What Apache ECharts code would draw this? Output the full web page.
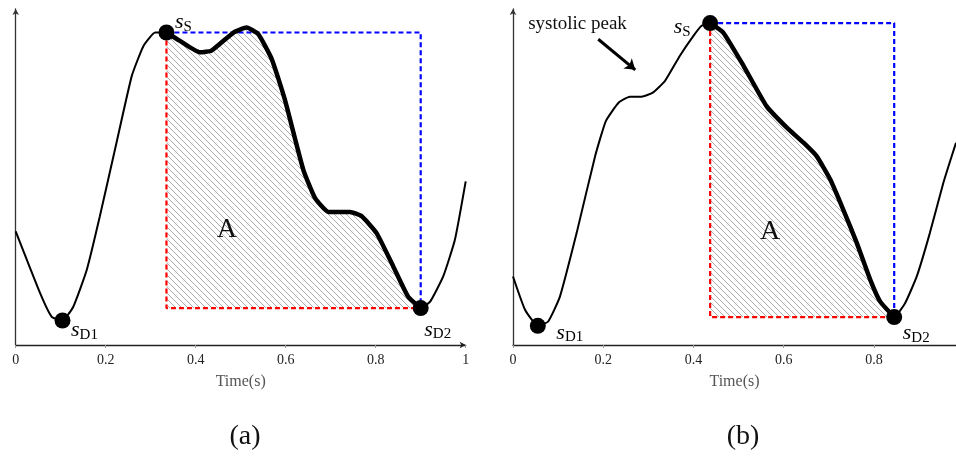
<!DOCTYPE html>
<html><head><meta charset="utf-8">
<script src="https://cdn.jsdelivr.net/npm/echarts@6/dist/echarts.min.js"></script>
<style>html,body{margin:0;padding:0;background:#fff}#c{width:956px;height:456px}</style>
</head><body><div id="c"></div>
<script>
// ---- data (a) ----
const ticksA = [0, 0.2, 0.4, 0.6, 0.8, 1];
const timeA = [0, 0.054, 0.08, 0.104, 0.128, 0.158, 0.187, 0.224, 0.258, 0.284, 0.31, 0.335, 0.365, 0.41, 0.435, 0.484, 0.513, 0.539, 0.569, 0.598, 0.639, 0.665, 0.695, 0.743, 0.769, 0.802, 0.839, 0.872, 0.9, 0.921, 0.95, 0.976, 1.0];
const ampA  = [0.338, 0.155, 0.084, 0.073, 0.114, 0.224, 0.383, 0.602, 0.801, 0.890, 0.930, 0.930, 0.905, 0.871, 0.876, 0.930, 0.945, 0.925, 0.851, 0.731, 0.522, 0.438, 0.396, 0.396, 0.383, 0.333, 0.234, 0.144, 0.110, 0.129, 0.204, 0.313, 0.487];
const sD1A = [0.104, 0.073];
const sSA  = [0.335, 0.930];
const sD2A = [0.9, 0.110];
const areaLabelA = [0.469, 0.343];

// ---- data (b) ----
const ticksB = [0, 0.2, 0.4, 0.6, 0.8];
const timeB = [0, 0.027, 0.055, 0.078, 0.104, 0.141, 0.182, 0.206, 0.234, 0.259, 0.285, 0.31, 0.337, 0.37, 0.4, 0.418, 0.437, 0.466, 0.511, 0.562, 0.607, 0.644, 0.673, 0.703, 0.732, 0.762, 0.792, 0.814, 0.845, 0.869, 0.895, 0.924, 0.954, 0.982];
const ampB  = [0.204, 0.104, 0.057, 0.070, 0.144, 0.333, 0.562, 0.667, 0.721, 0.739, 0.739, 0.751, 0.786, 0.861, 0.920, 0.950, 0.958, 0.930, 0.831, 0.711, 0.647, 0.602, 0.562, 0.493, 0.403, 0.304, 0.194, 0.129, 0.083, 0.124, 0.204, 0.333, 0.483, 0.602];
const sD1B = [0.055, 0.057];
const sSB  = [0.437, 0.958];
const sD2B = [0.845, 0.083];
const areaLabelB = [0.570, 0.338];
const noteTextB = 'systolic peak';
const notePosB = [0.143, 0.955];
const arrowB = [[0.189, 0.910], [0.271, 0.819]];

const SERIF = '"Liberation Serif", "DejaVu Serif", serif';
const SMOOTH = 0.15;

function hatch() {
  const c = document.createElement('canvas');
  c.width = 6; c.height = 6;
  const g = c.getContext('2d');
  g.fillStyle = '#ffffff'; g.fillRect(0, 0, 6, 6);
  g.strokeStyle = '#ababab'; g.lineWidth = 1;
  g.beginPath();
  g.moveTo(-1, -1); g.lineTo(7, 7);
  g.moveTo(-1, 5); g.lineTo(1, 7);
  g.moveTo(5, -1); g.lineTo(7, 1);
  g.stroke();
  return c;
}
const hatchColor = { image: hatch(), repeat: 'repeat' };

const zip = (xs, ys) => xs.map((x, i) => [x, ys[i]]);

const richS = {
  s: { fontFamily: SERIF, fontStyle: 'italic', fontSize: 22, color: '#000' },
  sub: { fontFamily: SERIF, fontStyle: 'normal', fontSize: 15, color: '#000', padding: [9, 0, 0, 0] }
};

function panel(gi, time, amp, sD1, sS, sD2, aPos, offs) {
  const curve = zip(time, amp);
  const seg = curve.filter(p => p[0] >= sS[0] - 1e-9 && p[0] <= sD2[0] + 1e-9);
  const dot = (p, sub, off) => ({
    value: p,
    label: { show: true, position: 'inside', offset: off, formatter: '{s|s}{sub|' + sub + '}', rich: richS }
  });
  return [
    { type: 'line', xAxisIndex: gi, yAxisIndex: gi, data: seg, showSymbol: false, smooth: SMOOTH,
      lineStyle: { width: 0 }, areaStyle: { origin: sD2[1], color: hatchColor, opacity: 1 }, z: 1, silent: true },
    { type: 'line', xAxisIndex: gi, yAxisIndex: gi, data: [sS, [sS[0], sD2[1]], sD2], showSymbol: false,
      lineStyle: { color: '#ff0000', width: 2.2, type: [5, 3] }, z: 2 },
    { type: 'line', xAxisIndex: gi, yAxisIndex: gi, data: [sS, [sD2[0], sS[1]], sD2], showSymbol: false,
      lineStyle: { color: '#0000ff', width: 2.2, type: [5, 3] }, z: 2 },
    { type: 'line', xAxisIndex: gi, yAxisIndex: gi, data: curve, showSymbol: false, smooth: SMOOTH,
      lineStyle: { color: '#000', width: 2 }, z: 3 },
    { type: 'line', xAxisIndex: gi, yAxisIndex: gi, data: seg, showSymbol: false, smooth: SMOOTH,
      lineStyle: { color: '#000', width: 4.5 }, z: 4 },
    { type: 'scatter', xAxisIndex: gi, yAxisIndex: gi, symbolSize: 16, itemStyle: { color: '#000', opacity: 1 }, z: 5,
      data: [dot(sD1, 'D1', offs[0]), dot(sS, 'S', offs[1]), dot(sD2, 'D2', offs[2])] },
    { type: 'scatter', xAxisIndex: gi, yAxisIndex: gi, symbolSize: 0, itemStyle: { opacity: 1 }, z: 5,
      data: [{ value: aPos, label: { show: true, position: 'inside', formatter: 'A',
        fontFamily: SERIF, fontStyle: 'normal', fontSize: 28, color: '#111' } }] }
  ];
}

const xAxisBase = (gi, max, ticks, arrow) => ({
  type: 'value', gridIndex: gi, min: 0, max: max, interval: 0.2,
  name: 'Time(s)', nameLocation: 'middle', nameGap: 29,
  nameTextStyle: { fontFamily: SERIF, fontSize: 16, color: '#555' },
  splitLine: { show: false },
  axisLine: { onZero: false, lineStyle: { color: '#222', width: 1.3 },
    symbol: arrow ? ['none', 'arrow'] : 'none', symbolSize: [5, 6] },
  axisTick: { show: true, length: 3, lineStyle: { color: '#999' }, customValues: ticks },
  axisLabel: { fontFamily: SERIF, fontSize: 14, color: '#222', margin: 8, customValues: ticks,
    formatter: v => String(v) }
});
const yAxisBase = gi => ({
  type: 'value', gridIndex: gi, min: 0, max: 1,
  splitLine: { show: false }, axisTick: { show: false }, axisLabel: { show: false },
  axisLine: { show: true, onZero: false, lineStyle: { color: '#333', width: 1.3 },
    symbol: ['none', 'arrow'], symbolSize: [5, 6] }
});

const option = {
  animation: false,
  backgroundColor: '#fff',
  grid: [
    { left: 15.7, top: 9, width: 450, height: 336 },
    { left: 513, top: 9, width: 443, height: 336 }
  ],
  xAxis: [xAxisBase(0, 1, ticksA, true), xAxisBase(1, 0.982, ticksB, false)],
  yAxis: [yAxisBase(0), yAxisBase(1)],
  title: [
    { text: '(a)', left: 240, top: 418, textAlign: 'center',
      textStyle: { fontFamily: SERIF, fontSize: 28, fontWeight: 'normal', color: '#111' } },
    { text: '(b)', left: 738, top: 418, textAlign: 'center',
      textStyle: { fontFamily: SERIF, fontSize: 28, fontWeight: 'normal', color: '#111' } }
  ],
  series: [
    ...panel(0, timeA, ampA, sD1A, sSA, sD2A, areaLabelA, [[22, 10], [17, -10], [17, 22]]),
    ...panel(1, timeB, ampB, sD1B, sSB, sD2B, areaLabelB, [[32, 7], [-28, 4], [22, 16]]),
    { type: 'scatter', xAxisIndex: 1, yAxisIndex: 1, symbolSize: 0, itemStyle: { opacity: 1 }, z: 6,
      data: [{ value: notePosB, label: { show: true, position: 'inside', formatter: noteTextB,
        fontFamily: SERIF, fontSize: 19, color: '#111' } }] },
    { type: 'lines', coordinateSystem: 'cartesian2d', xAxisIndex: 1, yAxisIndex: 1, z: 6,
      symbol: ['none', 'arrow'], symbolSize: 10,
      lineStyle: { color: '#000', width: 3, opacity: 1 },
      data: [{ coords: arrowB }] }
  ]
};

const chart = echarts.init(document.getElementById('c'), null, { renderer: 'canvas' });
chart.setOption(option);
</script>
</body></html>
